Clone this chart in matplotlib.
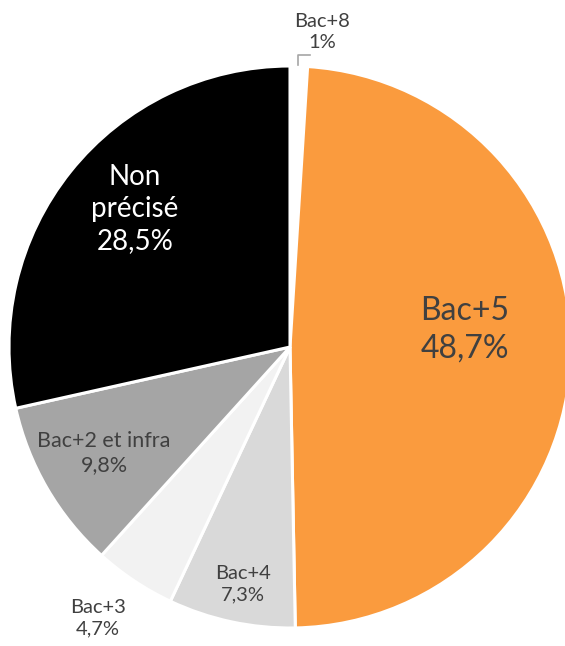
import matplotlib
matplotlib.use("Agg")
import matplotlib.pyplot as plt

# data
labels = ['Bac+8', 'Bac+5', 'Bac+4', 'Bac+3', 'Bac+2 et infra', 'Non précisé']
values = [1.0, 48.7, 7.3, 4.7, 9.8, 28.5]
value_texts = ['1%', '48,7%', '7,3%', '4,7%', '9,8%', '28,5%']
colors = ['#FFFFFF', '#FA9B3E', '#D9D9D9', '#F2F2F2', '#A5A5A5', '#000000']

W, H = 565, 646
cx, cy, R = 290, 347, 281


def px(x, y):
    # pixel position (from top-left) -> data coords of the pie
    return (x - cx) / R, (cy - y) / R


plt.rcParams['font.family'] = ['Lato', 'DejaVu Sans']
fig = plt.figure(figsize=(W / 100, H / 100), dpi=100)
ax = fig.add_axes([0, 0, 1, 1])
ax.pie(values, colors=colors, startangle=90, counterclock=False, radius=1.0,
       wedgeprops=dict(edgecolor='white', linewidth=2.2))
ax.set_xlim(-cx / R, (W - cx) / R)
ax.set_ylim(-(H - cy) / R, cy / R)
ax.set_aspect('equal')
ax.axis('off')

txt = '#404040'
# label placement: (text, x px, y px, size, colour)
placed = [
    ('Bac+8\n1%', 322, 32, 14.5, txt),
    ('Bac+5\n48,7%', 465, 330, 23, txt),
    ('Bac+4\n7,3%', 243, 584, 14.5, txt),
    ('Bac+3\n4,7%', 98, 618, 14.5, txt),
    ('Bac+2 et infra\n9,8%', 104, 453, 15.5, txt),
    ('Non\nprécisé\n28,5%', 135, 209, 20, 'white'),
]
for t, x, y, s, c in placed:
    xx, yy = px(x, y)
    ax.text(xx, yy, t, ha='center', va='center', fontsize=s, color=c,
            linespacing=1.3)

# leader line for Bac+8
l1 = px(298, 65)
l2 = px(298, 55)
l3 = px(310, 55)
ax.plot([l1[0], l2[0], l3[0]], [l1[1], l2[1], l3[1]], color='#A6A6A6', lw=1.2)

fig.savefig('out.png', dpi=100)
